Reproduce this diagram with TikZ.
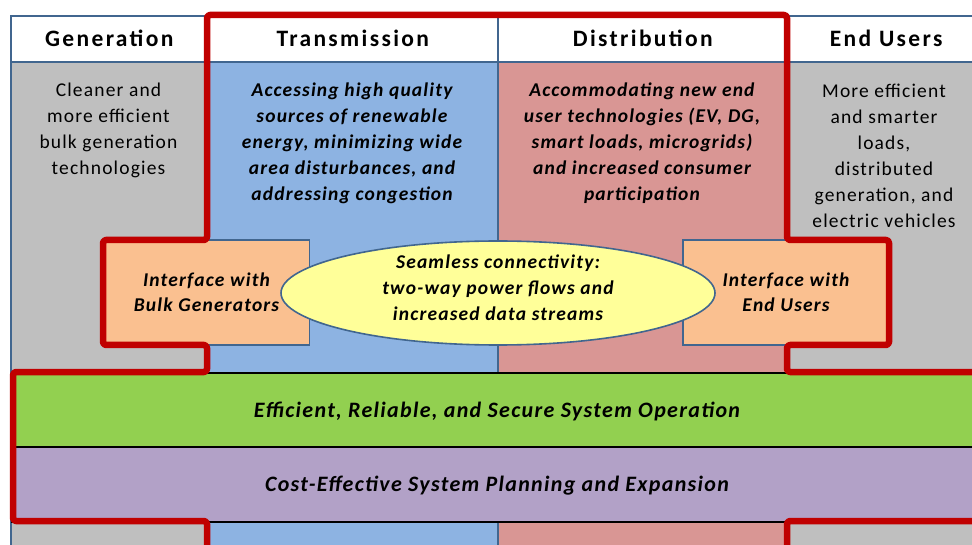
\documentclass[tikz,border=0pt]{standalone}
\usepackage{fontspec}
\setmainfont[LetterSpace=6]{Carlito}
\newfontfamily\headfont[LetterSpace=10]{Carlito}
\usetikzlibrary{shapes.geometric,positioning}

\definecolor{frameblue}{HTML}{41668F}
\definecolor{gengray}{HTML}{BFBFBF}
\definecolor{transblue}{HTML}{8DB3E2}
\definecolor{distpink}{HTML}{D99694}
\definecolor{ifpeach}{HTML}{FAC090}
\definecolor{linkyellow}{HTML}{FFFF99}
\definecolor{opgreen}{HTML}{92D050}
\definecolor{planpurple}{HTML}{B2A1C7}
\definecolor{scopered}{HTML}{C00000}

\begin{document}
\begin{tikzpicture}
  [x=1pt,y=-1pt,
   head/.style={draw=frameblue,line width=1.6pt,fill=white,anchor=north west,
     minimum height=46pt,font=\headfont\fontsize{23.5}{28}\selectfont\bfseries},
   colbody/.style={draw=frameblue,line width=1.6pt,anchor=north west,minimum height=495pt},
   plain/.style={align=center,font=\fontsize{19.5}{26}\selectfont},
   bold/.style={align=center,font=\fontsize{19.5}{26}\selectfont\bfseries\itshape},
   iface/.style={draw=frameblue,line width=1.6pt,fill=ifpeach,minimum width=206pt,
     minimum height=105pt,align=center,font=\fontsize{19.5}{25}\selectfont\bfseries\itshape},
   bar/.style={draw=black,line width=1.6pt,anchor=north west,minimum width=980pt},
   bartext/.style={font=\fontsize{22}{26}\selectfont\bfseries\itshape},
   scope line/.style={draw=scopered,line width=6.5pt,rounded corners=3pt,line join=round}]
  \useasboundingbox (0,0) rectangle (972,545);
  \clip (0,0) rectangle (972,545);

  % column bodies
  \node[colbody,fill=gengray,minimum width=197pt] (genbody) at (10,61) {};
  \node[colbody,fill=transblue,minimum width=290pt] (transbody) at (207,61) {};
  \node[colbody,fill=distpink,minimum width=290pt] (distbody) at (497,61) {};
  \node[colbody,fill=gengray,minimum width=200pt] (userbody) at (787,61) {};

  % column headings
  \node[head,minimum width=197pt] (genhead) at (10,15) {Generation};
  \node[head,minimum width=290pt] (transhead) at (207,15) {Transmission};
  \node[head,minimum width=290pt] (disthead) at (497,15) {Distribution};
  \node[head,minimum width=200pt,text width=180pt,align=left] (userhead) at (787,15)
    {\hspace*{32pt}End Users};

  % column texts
  \node[plain] (gentext) at (108.5,130)
    {Cleaner and\\more efficient\\bulk generation\\technologies};
  \node[bold] (transtext) at (352,143)
    {Accessing high quality\\sources of renewable\\energy, minimizing wide\\area disturbances, and\\addressing congestion};
  \node[bold] (disttext) at (642,143)
    {Accommodating new end\\user technologies (EV, DG,\\smart loads, microgrids)\\and increased consumer\\participation};
  \node[plain] (usertext) at (884,156)
    {More efficient\\and smarter\\loads,\\distributed\\generation, and\\electric vehicles};

  % interfaces and the link between them
  \node[iface] (ifgen) at (206.5,292.5) {Interface with\\Bulk Generators};
  \node[iface] (ifuser) at (786,292.5) {Interface with\\End Users};
  \node[ellipse,draw=frameblue,line width=1.6pt,fill=linkyellow,minimum width=434pt,
    minimum height=104pt] (link) at (498,293) {};
  \node[bold,yshift=5pt] (linktext) at (link.center)
    {Seamless connectivity:\\two-way power flows and\\increased data streams};

  % operation and planning bars
  \node[bar,fill=opgreen,minimum height=74pt] (ops) at (11,372) {};
  \node[bar,fill=planpurple,minimum height=75pt] (plan) at (11,446) {};
  \node[bartext] (opstext) at (497,411)
    {Efficient, Reliable, and Secure System Operation};
  \node[bartext] (plantext) at (497,486)
    {Cost-Effective System Planning and Expansion};

  % red outline round the grid
  \draw[scope line] (207,560) -- (207,521) -- (13,521) -- (13,372) -- (207,372)
    -- (207,345) -- (103,345) -- (103,240) -- (207,240) -- (207,15)
    -- (787,15) -- (787,240) -- (889,240) -- (889,345) -- (787,345)
    -- (787,372) -- (990,372) -- (990,521) -- (787,521) -- (787,560);
\end{tikzpicture}
\end{document}
